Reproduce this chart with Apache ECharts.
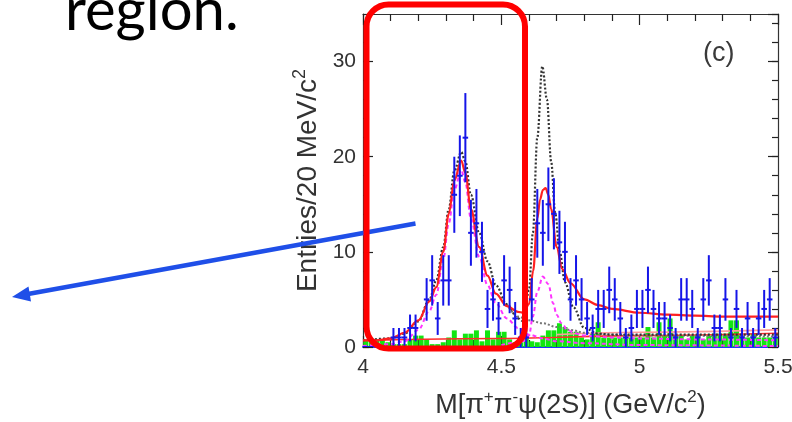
<!DOCTYPE html>
<html>
<head>
<meta charset="utf-8">
<script src="https://cdn.jsdelivr.net/npm/echarts@6/dist/echarts.min.js"></script>
<style>
html,body{margin:0;padding:0;background:#fff;}
#chart{width:792px;height:422px;}
</style>
</head>
<body>
<div id="chart"></div>
<script>
// ---- data ----
const binStart = 4.0;
const binWidth = 0.02;
const counts = [0,0,0,0,0, 1,1,1,2,2, 0,5,7,3,7, 7,16,18,22,12, 13,10,4,5,3, 7,6,3,1,1,
  5,13,12,15,14, 11,10,5,7,5, 3,2,4,4,6, 5,3,1,2,4, 4,6,4,3,3, 2,1,5,5,4,
  1,5,7,2,2, 5,1,4,1,3, 1,3,4,5,1];
const errors = [0,0,0,0,0, 1,1,1,1.41,1.41, 0,2.24,2.65,1.73,2.65, 2.65,4,4.24,4.69,3.46,
  3.61,3.16,2,2.24,1.73, 2.65,2.45,1.73,1,1, 2.24,3.61,3.46,3.87,3.74, 3.32,3.16,2.24,2.65,2.24,
  1.73,1.41,2,2,2.45, 2.24,1.73,1,1.41,2, 2,2.45,2,1.73,1.73, 1.41,1,2.24,2.24,2,
  1,2.24,2.65,1.41,1.41, 2.24,1,2,1,1.73, 1,1.73,2,2.24,1];
const sideband = [0.8,0.8,0.8,0.8,0.5, 0.3,0.3,0.3,0.8,1.2, 1.2,0.8,0.3,0.3,0.5, 1.0,1.75,0.8,1.4,1.4,
  1.75,0.6,1.75,0.8,1.6, 1.6,0.8,0.5,0.5,1.0, 0.6,0.5,1.2,1.75,1.75, 2.5,2.1,1.6,1.6,1.0,
  0.8,1.4,2.6,1.0,1.0, 1.0,1.0,1.0,1.0,1.0, 1.0,2.1,1.0,2.6,1.2, 3.0,1.2,1.2,0.8,1.2,
  1.2,0.8,1.2,1.4,1.4, 1.4,2.8,2.8,1.0,1.0, 1.4,1.0,1.0,1.0,1.0];

const fitX = [4.00,4.05,4.10,4.15,4.20,4.24,4.265,4.29,4.31,4.33,4.355,4.37,4.39,4.42,4.45,4.48,4.52,4.56,4.58,4.60,
  4.615,4.63,4.64,4.65,4.66,4.67,4.68,4.70,4.72,4.75,4.80,4.85,4.90,5.00,5.10,5.20,5.30,5.40,5.50];
const fitY = [0.7,0.7,0.9,1.5,2.8,4.8,6.3,10,14,17.5,19.6,18.3,14.5,10.5,7.5,5.6,4.3,3.7,3.6,4.5,
  8.0,13.5,15.5,16.5,16.7,16.0,14.5,10.5,8.2,6.7,5.0,4.4,4.0,3.6,3.4,3.3,3.2,3.2,3.2];

const sigAX = [4.00,4.10,4.15,4.20,4.24,4.265,4.29,4.31,4.33,4.355,4.37,4.39,4.42,4.45,4.48,4.52,4.56,4.60,4.65,4.70,4.80,5.00,5.50];
const sigAY = [0.1,0.3,0.6,1.8,3.8,5.5,9.2,13,16.5,18.6,17.3,13.5,9.5,6.5,4.6,3.0,2.0,1.3,0.9,0.6,0.4,0.2,0.1];

const sigBX = [4.50,4.58,4.60,4.614,4.63,4.65,4.67,4.687,4.70,4.717,4.74,4.76,4.80,4.90,5.00,5.20,5.50];
const sigBY = [0.2,0.6,1.2,3.2,5.8,7.4,6.6,4.6,3.4,2.5,1.8,1.5,1.2,1.0,0.9,0.8,0.7];

const altX = [4.00,4.10,4.15,4.20,4.24,4.265,4.29,4.31,4.33,4.355,4.37,4.39,4.42,4.45,4.48,4.52,4.56,4.58,4.60,4.614,
  4.63,4.648,4.665,4.68,4.695,4.711,4.73,4.76,4.80,4.85,4.90,5.00,5.50];
const altY = [0.7,0.9,1.4,2.7,5.0,7.0,10.5,14.5,18.5,20.5,19.5,16,12,9,6.5,4.5,3.0,2.7,6.0,12,
  22,29.5,26,19.5,14,10,6.8,4.2,2.0,1.4,1.3,1.3,1.3];

const tailX = [4.52,4.56,4.60,4.65,4.70,4.75,4.80,4.90,5.00,5.50];
const tailY = [4.5,3.2,2.8,2.5,2.1,1.8,1.5,1.3,1.2,1.1];

const bgX = [4.0,4.5,5.0,5.5];
const bgY = [0.7,0.9,1.2,1.45];
const bg2X = [4.7,5.0,5.5];
const bg2Y = [1.3,1.55,1.8];

const xTickLabels = ['4','4.5','5','5.5'];
const yTickLabels = ['0','10','20','30'];

// ---- build ----
const pts = counts.map((c, i) => [binStart + binWidth * (i + 0.5), c, errors[i]]);
const sb = sideband.map((v, i) => [binStart + binWidth * (i + 0.5), v]);
const pair = (xs, ys) => xs.map((x, i) => [x, ys[i]]);

const FONT = 'Liberation Sans, Arial, sans-serif';
const AX = '#333';

const chart = echarts.init(document.getElementById('chart'), null, {renderer: 'canvas'});

function lineSeries(data, color, width, type, z) {
  return {type: 'line', data, showSymbol: false, smooth: 0.35, smoothMonotone: 'x',
    lineStyle: {color, width, type}, z, silent: true, animation: false, clip: true};
}

const option = {
  backgroundColor: '#fff',
  animation: false,
  grid: {left: 363, right: 14, top: 14, bottom: 75, outerBoundsMode: 'none', containLabel: false},
  xAxis: [
    {type: 'value', min: 4, max: 5.5, interval: 0.5, position: 'bottom',
      axisLine: {show: true, onZero: false, lineStyle: {color: '#2233ff', width: 2}},
      axisTick: {show: true, inside: true, length: 11, lineStyle: {color: '#222', width: 1.2}},
      minorTick: {show: true, splitNumber: 5, length: 7, lineStyle: {color: '#222', width: 1.2}},
      axisLabel: {margin: 10, fontSize: 21, color: AX, fontFamily: FONT,
        formatter: v => xTickLabels[Math.round((v - 4) / 0.5)]},
      splitLine: {show: false},
      name: 'M[π{sup|+}π{sup|-}ψ(2S)] (GeV/c{sup|2})', nameLocation: 'middle', nameGap: 42,
      nameTextStyle: {fontSize: 27, lineHeight: 34, color: AX, fontFamily: FONT,
        rich: {sup: {fontSize: 17, lineHeight: 18, verticalAlign: 'top', color: AX, fontFamily: FONT}}}
    },
    {type: 'value', min: 4, max: 5.5, interval: 0.5, position: 'top',
      axisLine: {show: true, onZero: false, lineStyle: {color: AX, width: 1.2}},
      axisTick: {show: true, inside: true, length: 11, lineStyle: {color: '#222', width: 1.2}},
      minorTick: {show: true, splitNumber: 5, length: 7, lineStyle: {color: '#222', width: 1.2}},
      axisLabel: {show: false}, splitLine: {show: false}}
  ],
  yAxis: [
    {type: 'value', min: 0, max: 35, interval: 10, position: 'left',
      axisLine: {show: true, onZero: false, lineStyle: {color: AX, width: 1.2}},
      axisTick: {show: true, inside: true, length: 10, lineStyle: {color: '#222', width: 1.2}},
      axisLabel: {margin: 7, fontSize: 21, color: AX, fontFamily: FONT, showMaxLabel: false,
        formatter: v => (v % 10 === 0 ? yTickLabels[v / 10] : '')},
      splitLine: {show: false},
      name: 'Entries/20 MeV/c{sup|2}', nameLocation: 'middle', nameGap: 38, nameRotate: 90,
      nameMoveOverlap: false,
      nameTextStyle: {fontSize: 28, lineHeight: 34, color: AX, fontFamily: FONT,
        rich: {sup: {fontSize: 18, lineHeight: 18, verticalAlign: 'top', color: AX, fontFamily: FONT}}}
    },
    {type: 'value', min: 0, max: 35, interval: 2, position: 'left',
      axisLine: {show: false}, axisLabel: {show: false}, splitLine: {show: false},
      axisTick: {show: true, inside: true, length: 6, lineStyle: {color: '#222', width: 1.2}}},
    {type: 'value', min: 0, max: 35, interval: 10, position: 'right',
      axisLine: {show: true, onZero: false, lineStyle: {color: AX, width: 1.2}},
      axisLabel: {show: false}, splitLine: {show: false},
      axisTick: {show: true, inside: true, length: 10, lineStyle: {color: '#222', width: 1.2}}},
    {type: 'value', min: 0, max: 35, interval: 2, position: 'right',
      axisLine: {show: false}, axisLabel: {show: false}, splitLine: {show: false},
      axisTick: {show: true, inside: true, length: 6, lineStyle: {color: '#222', width: 1.2}}}
  ],
  series: [
    {type: 'custom', name: 'sideband', data: sb, z: 1, clip: true, silent: true,
      renderItem: (params, api) => {
        const x = api.value(0), v = api.value(1);
        const p1 = api.coord([x - binWidth * 0.45, v]);
        const p2 = api.coord([x + binWidth * 0.45, 0]);
        return {type: 'rect', shape: {x: p1[0], y: p1[1], width: p2[0] - p1[0], height: p2[1] - p1[1]},
          style: {fill: '#12e612'}};
      }},
    lineSeries(pair(bgX, bgY), '#ff2a2a', 1.6, 'solid', 2),
    lineSeries(pair(bg2X, bg2Y), '#ff9a9a', 1.6, 'solid', 2),
    lineSeries(pair(tailX, tailY), '#777', 2, [2, 2], 3),
    lineSeries(pair(sigAX, sigAY), '#ff33ff', 2, [4, 3], 3),
    lineSeries(pair(sigBX, sigBY), '#ff33ff', 2, [4, 3], 3),
    lineSeries(pair(altX, altY), '#333', 2.2, [2, 2], 4),
    lineSeries(pair(fitX, fitY), '#ff2020', 2.2, 'solid', 5),
    {type: 'custom', name: 'data', data: pts, z: 10, clip: true, silent: true,
      renderItem: (params, api) => {
        const x = api.value(0), y = api.value(1), e = api.value(2);
        const t = api.coord([x, y + e]);
        const b = api.coord([x, y - e]);
        const l = api.coord([x - binWidth / 2, y]);
        const r = api.coord([x + binWidth / 2, y]);
        const st = {stroke: '#1515e8', lineWidth: 2};
        return {type: 'group', children: [
          {type: 'line', shape: {x1: t[0], y1: t[1], x2: b[0], y2: b[1]}, style: st},
          {type: 'line', shape: {x1: l[0], y1: l[1], x2: r[0], y2: r[1]}, style: st}
        ]};
      }}
  ],
  graphic: [
    {type: 'text', z: 100, left: 65, top: -18,
      style: {text: 'region.', font: '58px Lato, "Open Sans", sans-serif', fill: '#000'}},
    {type: 'text', z: 100, left: 703, top: 40,
      style: {text: '(c)', font: '27px ' + FONT, fill: '#3a3a3a'}},
    {type: 'line', z: 100, shape: {x1: 415.5, y1: 223.5, x2: 28, y2: 294},
      style: {stroke: '#1f4fe8', lineWidth: 4.5}},
    {type: 'polygon', z: 100, shape: {points: [[12, 297], [31, 301.5], [28.5, 286.5]]},
      style: {fill: '#1f4fe8'}},
    {type: 'rect', z: 101, shape: {x: 366.5, y: 4.5, width: 158.5, height: 344, r: 22},
      style: {fill: 'none', stroke: '#ff0000', lineWidth: 6}}
  ]
};
chart.setOption(option);
</script>
</body>
</html>
